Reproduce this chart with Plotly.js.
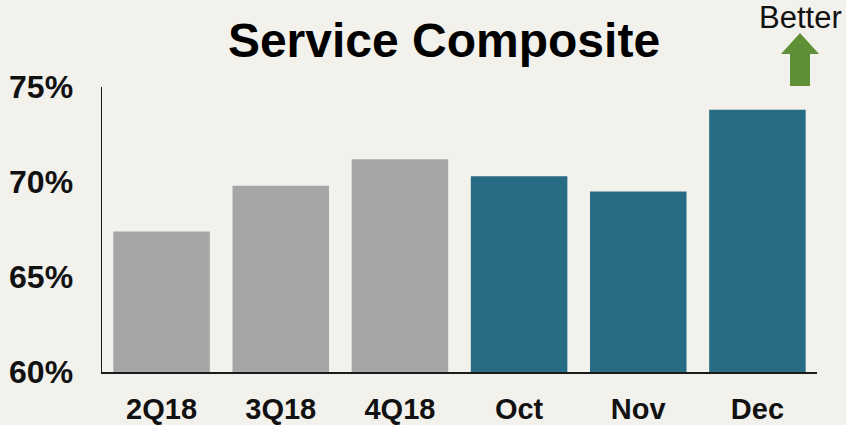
<!DOCTYPE html>
<html>
<head>
<meta charset="utf-8">
<script src="https://cdn.plot.ly/plotly-3.0.1.min.js"></script>
<style>html,body{margin:0;padding:0;background:#f2f1ec;}</style>
</head>
<body>
<div id="chart" style="width:846px;height:425px;"></div>
<script>
const categories = ["2Q18", "3Q18", "4Q18", "Oct", "Nov", "Dec"];
const values = [67.4, 69.8, 71.2, 70.3, 69.5, 73.8];
const barColors = ["#a6a6a6", "#a6a6a6", "#a6a6a6", "#286b84", "#286b84", "#286b84"];
const yTickVals = [60, 65, 70, 75];
const yTickText = ["60%", "65%", "70%", "75%"];

const W = 846, H = 425;
const m = {l: 102, r: 29, t: 87, b: 53};
const pw = W - m.l - m.r, ph = H - m.t - m.b;
const px = x => (x - m.l) / pw;
const py = y => (H - m.b - y) / ph;

const arrowPath = "M " + px(781) + " " + py(54) +
  " L " + px(800) + " " + py(33) +
  " L " + px(819) + " " + py(54) +
  " L " + px(810) + " " + py(54) +
  " L " + px(810) + " " + py(86) +
  " L " + px(790) + " " + py(86) +
  " L " + px(790) + " " + py(54) + " Z";

const FONT = "Liberation Sans, Arial, sans-serif";

Plotly.newPlot("chart", [{
  type: "bar",
  x: categories,
  y: values,
  marker: {color: barColors},
  hoverinfo: "none"
}], {
  width: W, height: H,
  margin: m,
  paper_bgcolor: "#f2f1ec",
  plot_bgcolor: "#f2f1ec",
  bargap: 0.19,
  showlegend: false,
  title: {
    text: "<b>Service Composite</b>",
    font: {family: FONT, size: 48, color: "#000"},
    x: px(444), xanchor: "center", xref: "paper",
    y: 1 - 40 / H, yanchor: "middle", yref: "container"
  },
  xaxis: {
    showline: true, linecolor: "#1a1a1a", linewidth: 1.5,
    ticks: "", showgrid: false, zeroline: false,
    tickfont: {family: FONT, size: 29, color: "#111"},
    tickprefix: "<b>", ticksuffix: "</b>",
    ticklabelstandoff: 11
  },
  yaxis: {
    range: [60, 75],
    tickvals: yTickVals, ticktext: yTickText.map(t => "<b>" + t + "</b>"),
    showline: true, linecolor: "#1a1a1a", linewidth: 1.5,
    ticks: "", showgrid: false, zeroline: false,
    tickfont: {family: FONT, size: 32, color: "#111"},
    ticklabelstandoff: 21
  },
  shapes: [{
    type: "path", xref: "paper", yref: "paper",
    path: arrowPath,
    fillcolor: "#5f9038", line: {width: 0}
  }],
  annotations: [{
    text: "Better", xref: "paper", yref: "paper",
    x: px(800), y: py(18), xanchor: "center", yanchor: "middle",
    showarrow: false,
    font: {family: FONT, size: 31, color: "#111"}
  }]
}, {displayModeBar: false, staticPlot: true});
</script>
</body>
</html>
